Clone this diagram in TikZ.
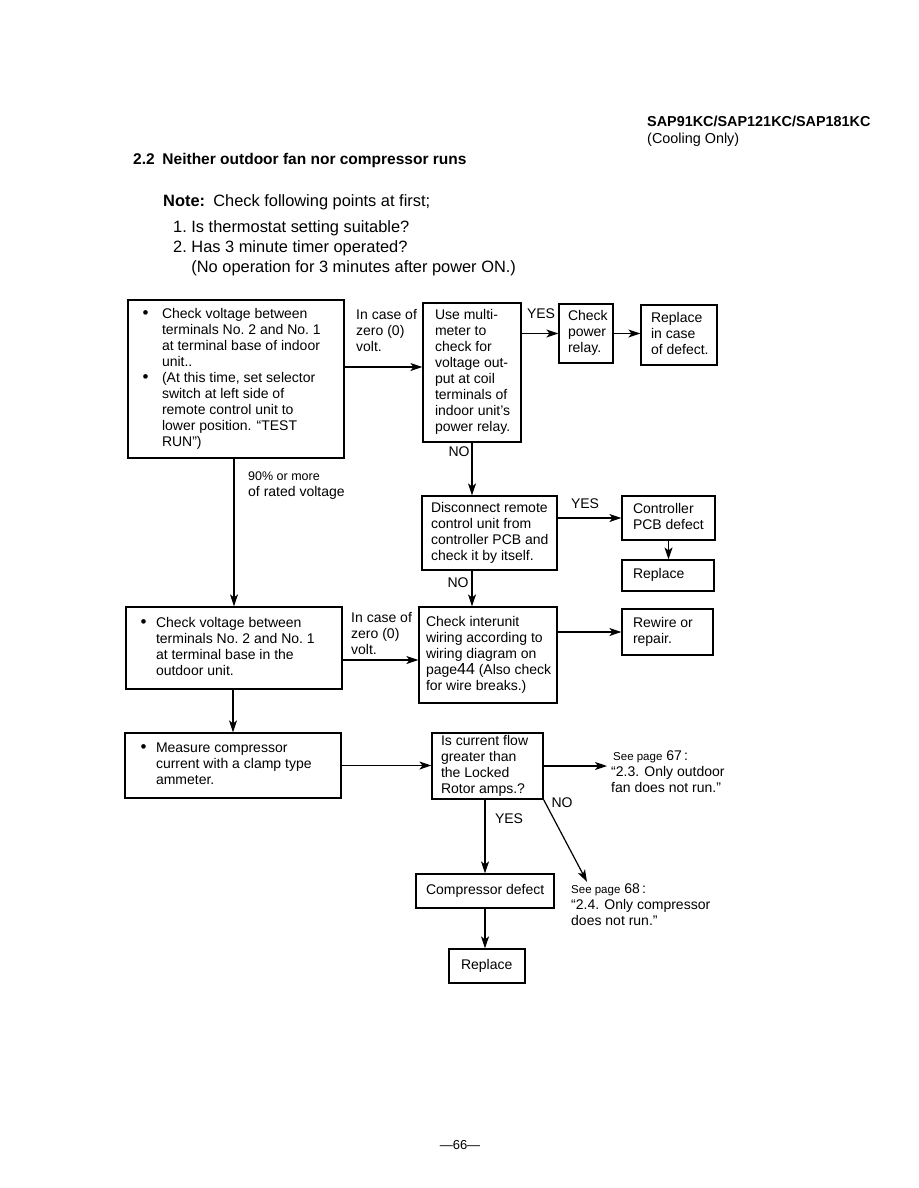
\documentclass[tikz,border=0pt]{standalone}
\usepackage{fontspec}
\setmainfont{Liberation Sans}
\usetikzlibrary{arrows.meta}

\newcommand{\textrows}[1]{\begin{tabular}{@{}l@{}}#1\end{tabular}}
\newcommand{\boxlines}[2]{\makebox[#1][l]{\textrows{#2}}}
\newcommand{\bul}[1][13.5pt]{\llap{{\fontsize{17}{16}\selectfont\textbullet}\hspace{#1}}}

\begin{document}
\begin{tikzpicture}[x=1pt,y=-1pt,
    box/.style={draw,line width=1.2pt,inner ysep=0pt,font=\fontsize{14}{16}\selectfont},
    lbl/.style={inner sep=0pt,font=\fontsize{14}{16}\selectfont},
    arr/.style={line width=1.2pt,-{Stealth[length=12pt,width=8pt,inset=3pt]}}]
    \useasboundingbox (0,0) rectangle (918,1188);

    % heading of the page
    \node[lbl,anchor=west,font=\bfseries\fontsize{14.4}{17}\selectfont] (model) at (647,131.5)
      {\textrows{SAP91KC/SAP121KC/SAP181KC\\ \mdseries(Cooling Only)}};
    \node[lbl,anchor=west,font=\bfseries\fontsize{15.5}{18}\selectfont] (title) at (133,160)
      {2.2\enspace Neither outdoor fan nor compressor runs};
    \node[lbl,anchor=west,font=\fontsize{16.4}{20}\selectfont] (note) at (163,202)
      {\textbf{Note:}\enspace Check following points at first;};
    \node[lbl,anchor=west,font=\fontsize{16.4}{20}\selectfont] (points) at (173,248.5)
      {\textrows{1.\ Is thermostat setting suitable?\\
                 2.\ Has 3 minute timer operated?\\
                 \phantom{2.\ }(No operation for 3 minutes after power ON.)}};

    % indoor unit
    \node[box,minimum width=216pt,minimum height=158pt,inner xsep=34pt] (check1) at (236,379)
      {\boxlines{148pt}{\bul Check voltage between\\ terminals No.~2 and No.~1\\
        at terminal base of indoor\\ unit..\\ \bul (At this time, set selector\\
        switch at left side of\\ remote control unit to\\ lower position. “TEST\\ RUN”)}};
    \node[lbl,anchor=west] (zero1) at (356,332) {\textrows{In case of\\ zero (0)\\ volt.}};

    \node[box,minimum width=98pt,minimum height=139pt,inner xsep=12pt] (meter) at (472,372.5)
      {\boxlines{74pt}{Use multi-\\ meter to\\ check for\\ voltage out-\\ put at coil\\
        terminals of\\ indoor unit’s\\ power relay.}};
    \node[lbl] (yes1) at (541,314) {YES};
    \node[box,minimum width=54pt,minimum height=59pt,inner xsep=9pt] (relay) at (586,333.5)
      {\boxlines{36pt}{Check\\ power\\ relay.}};
    \node[box,minimum width=76pt,minimum height=60pt,inner xsep=10pt] (replace1) at (679,335)
      {\boxlines{56pt}{Replace\\ in case\\ of defect.}};
    \node[lbl] (no1) at (459,452) {NO};

    % remote control unit
    \node[box,minimum width=135pt,minimum height=74pt,inner xsep=9pt] (remote) at (489.5,533)
      {\boxlines{117pt}{Disconnect remote\\ control unit from\\ controller PCB and\\ check it by itself.}};
    \node[lbl] (yes2) at (585,504) {YES};
    \node[box,minimum width=93pt,minimum height=44pt,inner xsep=11pt] (pcb) at (668.5,518)
      {\boxlines{71pt}{Controller\\ PCB defect}};
    \node[box,minimum width=92pt,minimum height=31pt,inner xsep=11pt] (replace2) at (668,575.5)
      {\boxlines{70pt}{Replace}};
    \node[lbl] (no2) at (458,583) {NO};
    \node[lbl,anchor=west] (rated) at (248,485)
      {\textrows{{\fontsize{12.5}{16}\selectfont 90\% or more}\\ of rated voltage}};

    % outdoor unit
    \node[box,minimum width=216pt,minimum height=82pt,inner xsep=30pt] (check2) at (234,648)
      {\boxlines{156pt}{\bul[9.5pt]Check voltage between\\ terminals No.~2 and No.~1\\
        at terminal base in the\\ outdoor unit.}};
    \node[lbl,anchor=west] (zero2) at (351,635) {\textrows{In case of\\ zero (0)\\ volt.}};
    \node[box,minimum width=138pt,minimum height=96pt,inner xsep=7pt] (wiring) at (488,655)
      {\boxlines{124pt}{Check interunit\\ wiring according to\\ wiring diagram on\\
        page{\fontsize{16}{16}\selectfont 44} (Also check\\ for wire breaks.)}};
    \node[box,minimum width=91pt,minimum height=46pt,inner xsep=11pt] (rewire) at (667.5,632)
      {\boxlines{69pt}{Rewire or\\ repair.}};

    % compressor current
    \node[box,minimum width=216pt,minimum height=65pt,inner xsep=31pt] (amps) at (233,765.5)
      {\boxlines{154pt}{\bul[9.5pt]Measure compressor\\ current with a clamp type\\ ammeter.}};
    \node[box,minimum width=111pt,minimum height=66pt,inner xsep=9pt] (locked) at (487.5,766)
      {\boxlines{93pt}{Is current flow\\ greater than\\ the Locked\\ Rotor amps.?}};
    \node[lbl,anchor=west] (see67) at (611,773)
      {\textrows{\hspace{2pt}{\fontsize{11.5}{16}\selectfont See page} 67\,:\\
        “2.3. Only outdoor\\ fan does not run.”}};
    \node[lbl] (no3) at (562,803) {NO};
    \node[lbl] (yes3) at (509,819) {YES};
    \node[lbl,anchor=west] (see68) at (571,906)
      {\textrows{{\fontsize{11.5}{16}\selectfont See page} 68\,:\\
        “2.4. Only compressor\\ does not run.”}};
    \node[box,minimum width=138pt,minimum height=34pt,inner xsep=10pt] (compdef) at (485,891)
      {\boxlines{118pt}{Compressor defect}};
    \node[box,minimum width=76pt,minimum height=34pt,inner xsep=12pt] (replace3) at (487,966)
      {\boxlines{52pt}{Replace}};

    \node[lbl,font=\fontsize{13}{16}\selectfont] (pagenum) at (460,1145) {—66—};

    % connectors
    \draw[arr] ([yshift=12pt]check1.east) -- ([yshift=12pt]check1.east -| meter.west);
    \draw[arr] (relay.west -| meter.east) -- (relay.west);
    \draw[arr] (relay.east) -- (relay.east -| replace1.west);
    \draw[arr] (meter.south) -- (meter.south |- remote.north);
    \draw[arr] (pcb.west -| remote.east) -- (pcb.west);
    \draw[arr] (pcb.south) -- (pcb.south |- replace2.north);
    \draw[arr] (meter.south |- remote.south) -- (meter.south |- wiring.north);
    \draw[arr] (wiring.east |- rewire.west) -- (rewire.west);
    \draw[arr] (check1.south -| check2.north) -- (check2.north);
    \draw[arr] ([yshift=-12pt]check2.east) -- ([yshift=-12pt]check2.east -| wiring.west);
    \draw[arr] (check2.south -| amps.north) -- (amps.north);
    \draw[arr] (amps.east) -- (amps.east -| locked.west);
    \draw[arr] (locked.east) -- ([xshift=-4pt]locked.east -| see67.west);
    \draw[arr] (locked.south -| compdef.north) -- (compdef.north);
    \draw[arr] (locked.south east) -- ([xshift=16pt]see68.north west);
    \draw[arr] (compdef.south) -- (compdef.south |- replace3.north);
\end{tikzpicture}
\end{document}
